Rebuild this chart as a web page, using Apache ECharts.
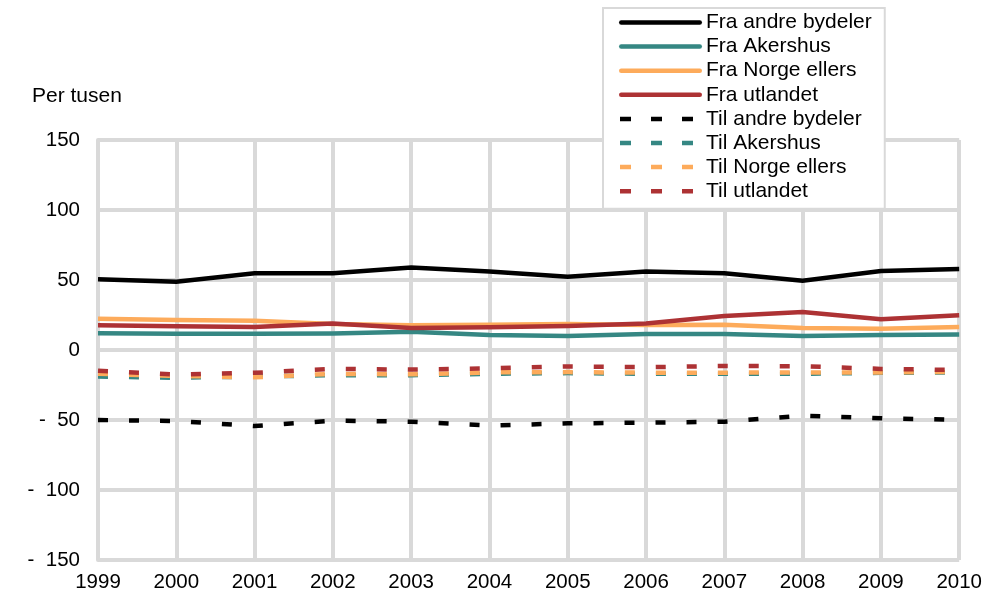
<!DOCTYPE html>
<html>
<head>
<meta charset="utf-8">
<script src="https://cdn.jsdelivr.net/npm/echarts@6/dist/echarts.min.js"></script>
<style>
  html, body { margin: 0; padding: 0; background: #fff; }
  #chart { width: 985px; height: 600px; }
</style>
</head>
<body>
<div id="chart"></div>
<script>
// Flytting til og fra bydelen, per tusen innbyggere, 1999–2010
const years = ['1999','2000','2001','2002','2003','2004','2005','2006','2007','2008','2009','2010'];

const fraAndreBydeler = [50.5, 48.8, 54.8, 54.8, 59.0, 56.0, 52.4, 56.0, 54.8, 49.5, 56.5, 57.9];
const fraAkershus     = [11.9, 11.6, 11.6, 11.8, 13.0, 10.7, 10.0, 11.4, 11.4, 10.0, 10.7, 11.0];
const fraNorgeEllers  = [22.4, 21.4, 20.9, 18.6, 17.6, 18.0, 18.6, 17.9, 18.0, 15.7, 15.2, 16.4];
const fraUtlandet     = [17.6, 16.9, 16.4, 19.0, 15.7, 16.2, 17.1, 19.0, 24.3, 27.1, 21.9, 24.8];

const tilAndreBydeler = [-50.0, -50.7, -54.3, -50.5, -51.2, -54.0, -52.4, -51.9, -51.2, -46.9, -48.8, -49.8];
const tilAkershus     = [-19.0, -19.8, -19.0, -18.0, -18.0, -17.0, -16.5, -17.0, -17.0, -17.0, -16.3, -16.0];
const tilNorgeEllers  = [-17.0, -18.5, -19.5, -17.0, -17.4, -16.0, -15.8, -16.2, -16.2, -16.0, -16.0, -15.7];
const tilUtlandet     = [-14.8, -17.5, -16.3, -13.5, -14.0, -13.1, -11.7, -12.3, -11.4, -11.6, -13.5, -14.3];

const yTicks = { min: -150, max: 150, step: 50 };

const C_BLACK = '#000000';
const C_TEAL = '#358783';
const C_ORANGE = '#fdab5b';
const C_RED = '#ad3234';
const GRID_GREY = '#d9d9d9';
const FONT = '"Liberation Sans", Arial, sans-serif';

// Legend keys: a rounded bar for the solid lines, three short dashes for the dashed ones
const ICON_SOLID = 'path://M2.25,0H80.75A2.25,2.25,0,0,1,80.75,4.5H2.25A2.25,2.25,0,0,1,2.25,0Z';
const ICON_DASHED = 'path://M0,0L0,4.5 M1,0h11v4.5h-11z M32,0h11v4.5h-11z M63,0h11v4.5h-11z M83,0L83,4.5';

function solid(name, data, color) {
  return {
    name, type: 'line', data, symbol: 'none', smooth: false,
    lineStyle: { color, width: 4.5, cap: 'butt', join: 'miter' },
    itemStyle: { color },
    emphasis: { disabled: true }
  };
}
function dashed(name, data, color) {
  return {
    name, type: 'line', data, symbol: 'none', smooth: false,
    lineStyle: { color, width: 4.5, type: [10, 21], cap: 'butt', join: 'miter' },
    itemStyle: { color },
    emphasis: { disabled: true }
  };
}

const series = [
  solid('Fra andre bydeler', fraAndreBydeler, C_BLACK),
  solid('Fra Akershus', fraAkershus, C_TEAL),
  solid('Fra Norge ellers', fraNorgeEllers, C_ORANGE),
  solid('Fra utlandet', fraUtlandet, C_RED),
  dashed('Til andre bydeler', tilAndreBydeler, C_BLACK),
  dashed('Til Akershus', tilAkershus, C_TEAL),
  dashed('Til Norge ellers', tilNorgeEllers, C_ORANGE),
  dashed('Til utlandet', tilUtlandet, C_RED)
];

const chart = echarts.init(document.getElementById('chart'), null, { renderer: 'canvas' });
chart.setOption({
  animation: false,
  backgroundColor: '#ffffff',
  textStyle: { fontFamily: FONT },
  grid: { left: 98, right: 23, top: 140, bottom: 40, containLabel: false },
  graphic: [{
    type: 'text', left: 32, top: 86,
    style: { text: 'Per tusen', font: '21px ' + FONT, fill: '#000' }
  }],
  legend: {
    orient: 'vertical',
    left: 603, top: 8,
    padding: [4, 13, 7, 16],
    itemWidth: 83, itemHeight: 4.5, itemGap: 3.1,
    backgroundColor: '#ffffff',
    borderColor: GRID_GREY, borderWidth: 2, borderRadius: 0,
    itemStyle: { borderWidth: 0 },
    textStyle: { fontSize: 21, fontFamily: FONT, color: '#000', padding: [0, 0, 0, -1] },
    selectedMode: false,
    data: series.map(s => ({
      name: s.name,
      icon: s.lineStyle.type ? ICON_DASHED : ICON_SOLID
    }))
  },
  xAxis: {
    type: 'category', data: years, boundaryGap: false,
    axisLine: { show: true, lineStyle: { color: GRID_GREY, width: 4 } },
    axisTick: { show: false },
    axisLabel: { color: '#000', fontSize: 20.5, fontFamily: FONT, margin: 12, interval: 0 },
    splitLine: { show: true, lineStyle: { color: GRID_GREY, width: 4 } }
  },
  yAxis: {
    type: 'value', min: yTicks.min, max: yTicks.max, interval: yTicks.step,
    axisLine: { show: true, lineStyle: { color: GRID_GREY, width: 4 } },
    axisTick: { show: false },
    axisLabel: {
      color: '#000', fontSize: 20.5, fontFamily: FONT, margin: 18,
      formatter: v => v < 0 ? '-  ' + Math.abs(v) : String(v)
    },
    splitLine: { show: true, lineStyle: { color: GRID_GREY, width: 4 } }
  },
  series
});
</script>
</body>
</html>
